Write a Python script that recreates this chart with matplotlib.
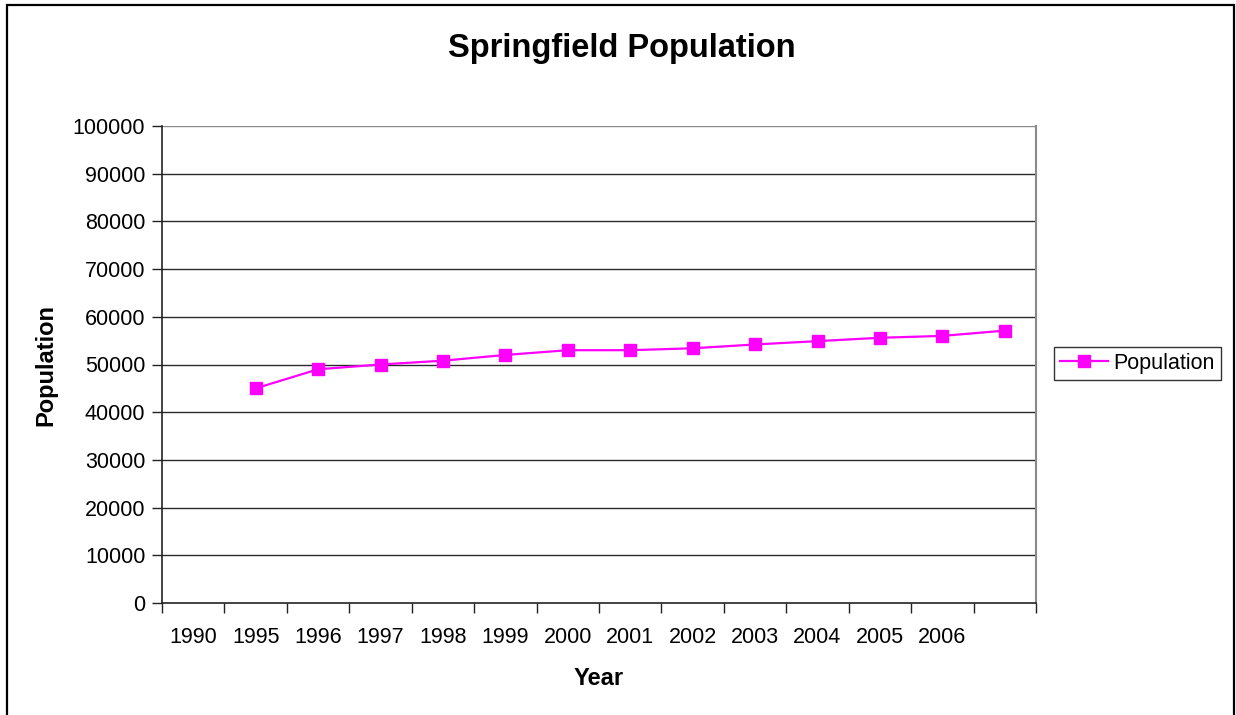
import numpy as np
import matplotlib
matplotlib.use("Agg")
import matplotlib.pyplot as plt
from matplotlib.patches import Rectangle

# Category labels along the x axis (the last category slot carries no label)
year_labels = ["1990", "1995", "1996", "1997", "1998", "1999", "2000",
               "2001", "2002", "2003", "2004", "2005", "2006"]
n_categories = 14

# Population series; it starts in the second category slot
series_start = 1
population = [45000, 49000, 50000, 50800, 52000, 53000, 53000,
              53400, 54200, 54900, 55600, 56000, 57100]

y_ticks = list(range(0, 100001, 10000))

plt.rcParams["font.family"] = ["Liberation Sans", "DejaVu Sans"]

W, H = 1236, 715
fig = plt.figure(figsize=(W / 100, H / 100), dpi=100)
fig.patch.set_facecolor("white")

left, right, top, bottom = 162, 1036, 126, 603
ax = fig.add_axes([left / W, 1 - bottom / H, (right - left) / W, (bottom - top) / H])

ax.set_xlim(0, n_categories)
ax.set_ylim(0, 100000)

# Grid lines at each y tick
for v in y_ticks[1:]:
    ax.axhline(v, color="#8a8a8a" if v == y_ticks[-1] else "#2a2a2a", lw=1.0, zorder=1)

x_pos = np.arange(len(population)) + series_start + 0.5
ax.plot(x_pos, population, color="#ff00ff", lw=1.6, marker="s", markersize=8,
        markerfacecolor="#ff00ff", markeredgecolor="#ff00ff", zorder=3,
        label="Population")

# Spines
for side in ("left", "bottom"):
    ax.spines[side].set_color("#222222")
    ax.spines[side].set_linewidth(1.2)
ax.spines["right"].set_color("#8a8a8a")
ax.spines["right"].set_linewidth(1.5)
ax.spines["top"].set_visible(False)

# Y axis ticks
ax.set_yticks(y_ticks)
ax.set_yticklabels([str(v) for v in y_ticks])
ax.tick_params(axis="y", direction="out", length=7, width=1, color="#222222",
               labelsize=15.5, pad=5)

# X axis: boundary ticks at category edges, labels centred in slots
ax.set_xticks(np.arange(n_categories + 1))
ax.set_xticklabels([""] * (n_categories + 1))
ax.set_xticks(np.arange(len(year_labels)) + 0.5, minor=True)
ax.set_xticklabels(year_labels, minor=True)
ax.tick_params(axis="x", which="major", direction="out", length=7, width=1, color="#222222")
ax.tick_params(axis="x", which="minor", length=0, labelsize=15.5, pad=17)

ax.set_xlabel("Year", fontsize=17, fontweight="bold", labelpad=14)
ax.set_ylabel("Population", fontsize=17, fontweight="bold", labelpad=11)

fig.text(0.503, 1 - 49 / H, "Springfield Population", ha="center", va="center",
         fontsize=23.5, fontweight="bold")

leg = fig.legend(loc="center left", bbox_to_anchor=(1054 / W, 1 - 363.5 / H),
                 fontsize=15.5, frameon=True, fancybox=False, handlelength=2.2,
                 borderpad=0.3, handletextpad=0.25, borderaxespad=0)
leg.get_frame().set_edgecolor("black")
leg.get_frame().set_linewidth(1.0)

# Outer chart border
fig.patches.append(Rectangle((7 / W, -0.02), (1234 - 7) / W, 1 - 5 / H + 0.02,
                             transform=fig.transFigure, fill=False,
                             edgecolor="black", lw=1.6))

fig.savefig("out.png", dpi=100, facecolor="white")
